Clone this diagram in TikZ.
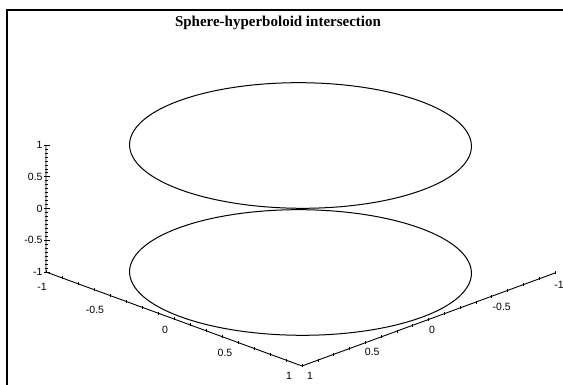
\documentclass[tikz,border=0pt]{standalone}
\usepackage{fontspec}
\setmainfont{Liberation Serif}
\newfontfamily\ticksans{Liberation Sans}
\usetikzlibrary{positioning}
\tikzset{
  ticklabel/.style={font=\ticksans\fontsize{10.5}{11}\selectfont,inner sep=0pt},
  framepen/.style={line width=1.8pt},
  curvepen/.style={line width=1pt},
}

\begin{document}
\begin{tikzpicture}[x=1pt,y=1pt,line width=0.9pt]
\useasboundingbox (0,0) rectangle (563,385);
% frame and title
\draw[framepen] (7,0) -- (7,375) -- (563,375);
\node[font=\bfseries\fontsize{15}{17}\selectfont] (title) at (278,362) {Sphere-hyperboloid intersection};
% 3d box
\begin{scope}[shift={(300.5,176)},x={(128pt,-47pt)},y={(-126.5pt,-46.5pt)},z={(0pt,63.5pt)}]
\coordinate (ztop) at (-1,1,1);
\coordinate (corner) at (-1,1,-1);
\coordinate (front) at (1,1,-1);
\coordinate (right) at (1,-1,-1);
\draw (ztop) -- (corner) -- (front) -- (right);
% minor and major ticks
\foreach \i in {0,...,32} {
  \pgfmathsetmacro\zz{-1+\i/16}
  \draw[line width=0.6pt] ([xshift=-1.5pt]-1,1,\zz) -- ([xshift=1.5pt]-1,1,\zz);
}
\foreach \i in {0,...,16} {
  \pgfmathsetmacro\tt{-1+\i/8}
  \draw[line width=0.6pt] ([yshift=-1.5pt]\tt,1,-1) -- ([yshift=1.5pt]\tt,1,-1);
  \draw[line width=0.6pt] ([yshift=-1.5pt]1,\tt,-1) -- ([yshift=1.5pt]1,\tt,-1);
}
\foreach \t in {-1,-0.5,0,0.5,1} {
  \draw ([xshift=-2pt]-1,1,\t) -- ([xshift=3.5pt]-1,1,\t);
  \node[ticklabel,anchor=east] at ([xshift=-3pt]-1,1,\t) {\t};
}
\foreach \t/\dx/\dy in {-1/-4/-15,-0.5/-15/-14.5,0/-9/-11,0.5/-13/-10,1/-13/-10}
  \node[ticklabel] at ([shift={(\dx pt,\dy pt)}]\t,1,-1) {\t};
\foreach \t/\dx/\dy in {1/8/-10,0.5/7/-9,0/3.5/-10.5,-0.5/10/-11,-1/4/-12}
  \node[ticklabel] at ([shift={(\dx pt,\dy pt)}]1,\t,-1) {\t};
% the two intersection circles
\foreach \h in {-1,1}
  \draw[curvepen] plot[domain=0:360,samples=120,smooth cycle] ({0.95*cos(\x)},{0.95*sin(\x)},\h);
\end{scope}
\end{tikzpicture}
\end{document}
